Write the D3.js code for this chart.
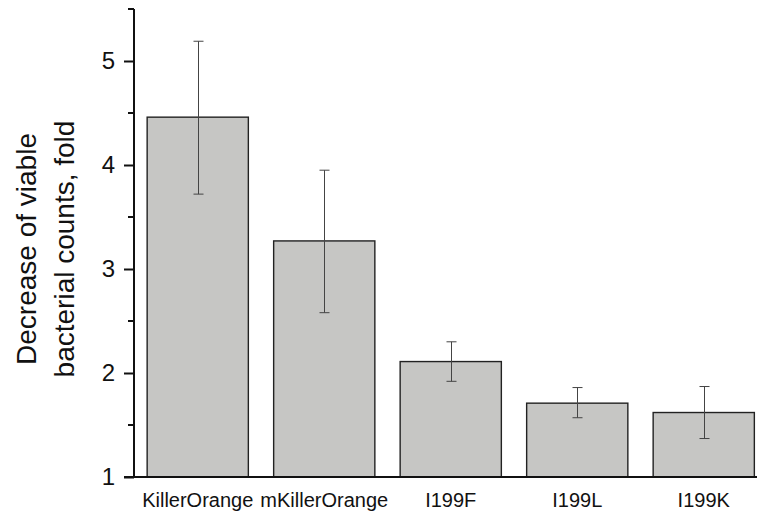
<!DOCTYPE html>
<html>
<head>
<meta charset="utf-8">
<script src="https://cdn.jsdelivr.net/npm/d3@7"></script>
<style>
  body { margin: 0; background: #fff; }
  svg { display: block; font-family: "Liberation Sans", Arial, sans-serif; }
</style>
</head>
<body>
<svg id="chart" width="757" height="512"></svg>
<script>
const categories = ['KillerOrange', 'mKillerOrange', 'I199F', 'I199L', 'I199K'];
const values = [4.46, 3.27, 2.11, 1.71, 1.62];
const errLow = [3.72, 2.58, 1.92, 1.57, 1.37];
const errHigh = [5.19, 3.95, 2.30, 1.86, 1.87];
const yTicks = [1, 2, 3, 4, 5];
const yMinor = [1.5, 2.5, 3.5, 4.5, 5.5];

const svg = d3.select('#chart');

const x = d3.scaleBand()
    .domain(categories)
    .range([134.5, 767])
    .paddingInner(0.2)
    .paddingOuter(0.1);

const y = d3.scaleLinear()
    .domain([1, 5.5])
    .range([477, 9]);

// bars
svg.append('g')
  .selectAll('rect')
  .data(values)
  .join('rect')
    .attr('x', (d, i) => x(categories[i]))
    .attr('y', d => y(d))
    .attr('width', x.bandwidth())
    .attr('height', d => y(1) - y(d))
    .attr('fill', '#c6c6c4')
    .attr('stroke', '#222')
    .attr('stroke-width', 1.4);

// error bars
const eb = svg.append('g')
    .attr('stroke', '#444')
    .attr('stroke-width', 1);
categories.forEach((c, i) => {
  const cx = Math.round(x(c) + x.bandwidth() / 2) + 0.5;
  eb.append('line').attr('x1', cx).attr('x2', cx)
    .attr('y1', y(errLow[i])).attr('y2', y(errHigh[i]));
  [errLow[i], errHigh[i]].forEach(v => {
    eb.append('line').attr('x1', cx - 5).attr('x2', cx + 5)
      .attr('y1', y(v)).attr('y2', y(v));
  });
});

// y axis
const yAxis = svg.append('g')
    .attr('transform', 'translate(134,0)')
    .call(d3.axisLeft(y).tickValues(yTicks).tickFormat(d3.format('d')).tickSize(10).tickPadding(9));
yAxis.select('.domain').attr('d', `M0,${y(5.5)}V${y(1)}`).attr('stroke', '#111').attr('stroke-width', 2);
yAxis.selectAll('.tick line').attr('stroke', '#111').attr('stroke-width', 2);
yAxis.selectAll('.tick text').attr('font-size', 24).attr('fill', '#111')
    .attr('font-family', '"Liberation Sans", Arial, sans-serif');

// minor tick marks
yAxis.selectAll('.minor')
  .data(yMinor)
  .join('line')
    .attr('class', 'minor')
    .attr('x1', -6).attr('x2', 0)
    .attr('y1', d => y(d)).attr('y2', d => y(d))
    .attr('stroke', '#111').attr('stroke-width', 2);

// baseline
svg.append('line')
    .attr('x1', 124).attr('x2', 757)
    .attr('y1', y(1)).attr('y2', y(1))
    .attr('stroke', '#111').attr('stroke-width', 2);

// category labels
svg.append('g')
  .selectAll('text')
  .data(categories)
  .join('text')
    .attr('x', d => x(d) + x.bandwidth() / 2)
    .attr('y', 507)
    .attr('text-anchor', 'middle')
    .attr('font-size', 20)
    .attr('fill', '#111')
    .text(d => d);

// y title
const title = svg.append('text')
    .attr('transform', 'translate(36,249) rotate(-90)')
    .attr('text-anchor', 'middle')
    .attr('font-size', 28)
    .attr('fill', '#111');
title.append('tspan').attr('x', 0).attr('y', 0).text('Decrease of viable');
title.append('tspan').attr('x', 0).attr('y', 38).text('bacterial counts, fold');
</script>
</body>
</html>
